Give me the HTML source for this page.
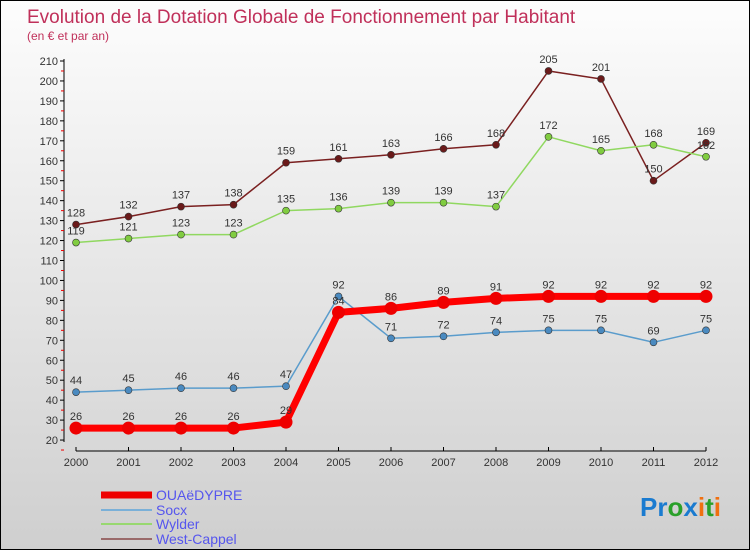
<!DOCTYPE html>
<html><head><meta charset="utf-8"><style>
body{margin:0}
#c{width:748px;height:548px;border:1px solid #000;background:linear-gradient(#fdfdfd,#cfcfcf);position:relative;font-family:"Liberation Sans",sans-serif}
svg{position:absolute;left:0;top:0}
</style></head><body>
<div id="c">
<svg id="s" width="750" height="550" font-family="Liberation Sans, sans-serif">
<text x="26" y="22" font-size="19" fill="#c0305a">Evolution de la Dotation Globale de Fonctionnement par Habitant</text>
<text x="26" y="39" font-size="12" fill="#c0305a">(en € et par an)</text>
<text x="720" y="515" font-size="26" font-weight="bold" text-anchor="end"><tspan fill="#1a7bd0">Pr</tspan><tspan fill="#2aa02a">o</tspan><tspan fill="#1a7bd0">x</tspan><tspan fill="#f07010">i</tspan><tspan fill="#2aa02a">t</tspan><tspan fill="#f07010">i</tspan></text>
</svg>
</div>
<script>
const years=["2000","2001","2002","2003","2004","2005","2006","2007","2008","2009","2010","2011","2012"];
const yTicks=[20,30,40,50,60,70,80,90,100,110,120,130,140,150,160,170,180,190,200,210];
const ouaedypre=[26,26,26,26,29,84,86,89,91,92,92,92,92];
const socx=[44,45,46,46,47,92,71,72,74,75,75,69,75];
const wylder=[119,121,123,123,135,136,139,139,137,172,165,168,162];
const westCappel=[128,132,137,138,159,161,163,166,168,205,201,150,169];
const names=["OUAëDYPRE","Socx","Wylder","West-Cappel"];
const NS="http://www.w3.org/2000/svg";
const s=document.getElementById('s');
function X(i){return 75+i*52.5}
function Y(v){return 60+(210-v)*1.995}
function el(t,a,p){const e=document.createElementNS(NS,t);for(const k in a)e.setAttribute(k,a[k]);(p||s).appendChild(e);return e}
// axes
let ya=el('line',{x1:63,y1:58,x2:63,y2:441,stroke:'#000'});


let xa=el('line',{x1:75,y1:450,x2:705,y2:450,stroke:'#000'});


yTicks.forEach(v=>{
 el('line',{x1:59,x2:63,y1:Y(v),y2:Y(v),stroke:'#000'});
 el('line',{x1:60,x2:63,y1:Y(v-5),y2:Y(v-5),stroke:'#e00'});
 const t=el('text',{x:57,y:Y(v)+4,'font-size':11,'text-anchor':'end',fill:'#333'});
 t.textContent=v;
 
 
});
years.forEach((y,i)=>{
 el('line',{x1:X(i),x2:X(i),y1:446,y2:450,stroke:'#000'});
 const t=el('text',{x:X(i),y:465,'font-size':11,'text-anchor':'middle',fill:'#333'});
 t.textContent=y;
 
 
});
const series=[
 {d:westCappel,c:'#7a2020',p:'#6a1a1a',w:1.5,r:3.5,n:'west-cappel'},
 {d:wylder,c:'#90d860',p:'#80cc40',w:1.5,r:3.5,n:'wylder'},
 {d:socx,c:'#5a9ccc',p:'#4a8ac0',w:1.5,r:3.5,n:'socx'},
 {d:ouaedypre,c:'#ff0000',p:'#ee0000',w:7,r:6.5,n:'ouaedypre'}];
series.forEach(S=>{
 const l=el('polyline',{points:S.d.map((v,i)=>X(i)+','+Y(v)).join(' '),fill:'none',stroke:S.c,'stroke-width':S.w,'stroke-linejoin':'round'});
 
 
 S.d.forEach((v,i)=>{
  const c=el('circle',{cx:X(i),cy:Y(v),r:S.r,fill:S.p,stroke:'#333','stroke-width':S.w>2?0:0.6});
  
  
  const t=el('text',{x:X(i),y:Y(v)-8,'font-size':11,'text-anchor':'middle',fill:'#333'});
  t.textContent=v;
  
  
 });
});
// legend
const lc=['#ee0000','#7ab0d8','#98d870','#9a6a6a'],lw=[7,2,2,2],ly=[492,507,521,536];
names.forEach((n,i)=>{
 const l=el('line',{x1:100,x2:151,y1:ly[i]+2,y2:ly[i]+2,stroke:lc[i],'stroke-width':lw[i]});
 
 
 const t=el('text',{x:155,y:ly[i]+7,'font-size':14,fill:'#5555ee'});
 t.textContent=n;
 
 
});
</script>
</body></html>
